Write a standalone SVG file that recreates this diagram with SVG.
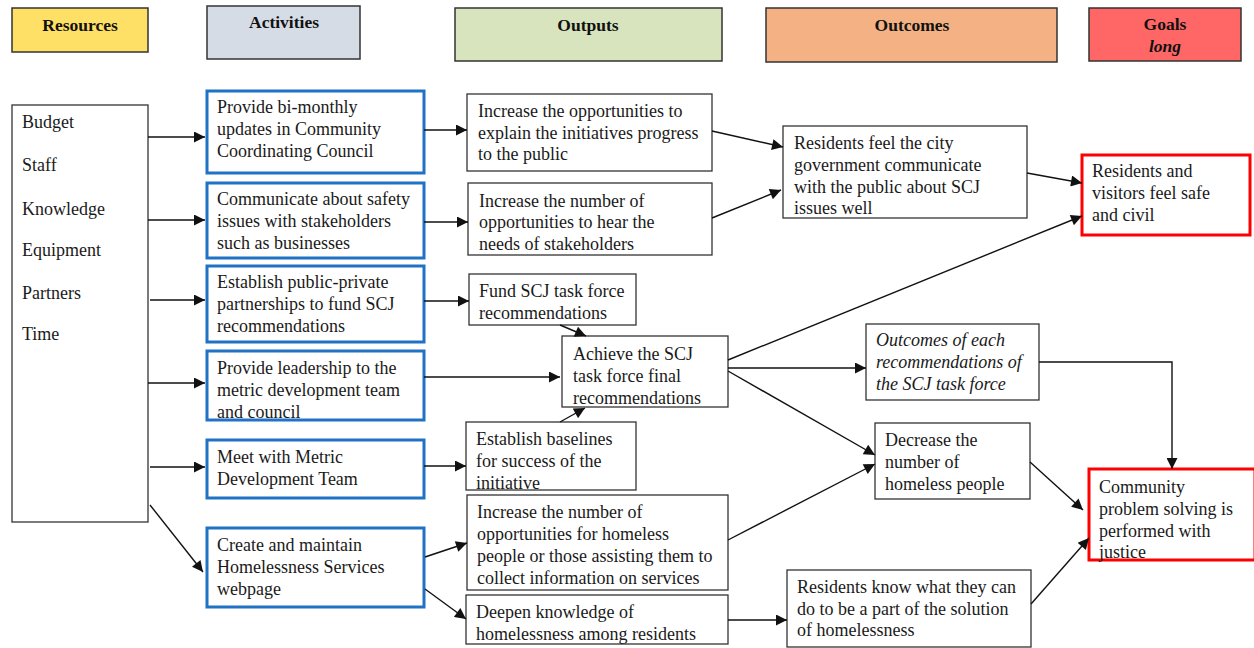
<svg xmlns="http://www.w3.org/2000/svg" width="1254" height="648" viewBox="0 0 1254 648" font-family="'Liberation Serif', 'Times New Roman', serif">
  <style>
    text { font-family: "Liberation Serif", "Times New Roman", serif; font-size: 18px; fill: #1a1a1a; }
    .hdr { font-weight: bold; font-size: 17.5px; text-anchor: middle; fill: #111; }
    .hbox { stroke: #333; stroke-width: 1.5; }
    .box { fill: #fff; stroke: #333; stroke-width: 1.3; }
    .act { fill: #fff; stroke: #1f72c4; stroke-width: 3; }
    .goal { fill: #fff; stroke: #ff0000; stroke-width: 3; }
    .it { font-style: italic; }
    #connectors path, #connectors line { fill: none; stroke: #111; stroke-width: 1.4; marker-end: url(#arrow); }
  </style>
  <defs>
    <marker id="arrow" viewBox="0 0 10 10" refX="10" refY="5" markerWidth="13" markerHeight="11" markerUnits="userSpaceOnUse" orient="auto">
      <path d="M0,0 L10,5 L0,10 z" fill="#111"/>
    </marker>
  </defs>
  <rect width="1254" height="648" fill="#fff"/>

  <!-- column headers -->
  <g id="hdr-resources">
    <rect class="hbox" x="12" y="8" width="136" height="44" fill="#ffe066"/>
    <text class="hdr" x="80" y="31">Resources</text>
  </g>
  <g id="hdr-activities">
    <rect class="hbox" x="207" y="6" width="153" height="53" fill="#d6dce5"/>
    <text class="hdr" x="284" y="28">Activities</text>
  </g>
  <g id="hdr-outputs">
    <rect class="hbox" x="455" y="8" width="267" height="53" fill="#d7e4bd"/>
    <text class="hdr" x="588" y="31">Outputs</text>
  </g>
  <g id="hdr-outcomes">
    <rect class="hbox" x="766" y="8" width="291" height="54" fill="#f4b183"/>
    <text class="hdr" x="912" y="31">Outcomes</text>
  </g>
  <g id="hdr-goals">
    <rect class="hbox" x="1089" y="8" width="152" height="53" fill="#ff6666"/>
    <text class="hdr" x="1165" y="30">Goals</text>
    <text class="hdr it" x="1165" y="52">long</text>
  </g>

  <!-- resources -->
  <g id="resources">
    <rect class="box" x="12" y="105" width="136" height="417"/>
    <text x="22" y="128">Budget</text>
    <text x="22" y="171">Staff</text>
    <text x="22" y="215">Knowledge</text>
    <text x="22" y="256">Equipment</text>
    <text x="22" y="299">Partners</text>
    <text x="22" y="340">Time</text>
  </g>

  <!-- activities -->
  <g id="act-updates">
    <rect class="act" x="207" y="91" width="217" height="82"/>
    <text x="217" y="113">Provide bi-monthly</text>
    <text x="217" y="135">updates in Community</text>
    <text x="217" y="157">Coordinating Council</text>
  </g>
  <g id="act-safety">
    <rect class="act" x="207" y="183" width="217" height="75"/>
    <text x="217" y="205">Communicate about safety</text>
    <text x="217" y="227">issues with stakeholders</text>
    <text x="217" y="249">such as businesses</text>
  </g>
  <g id="act-partnerships">
    <rect class="act" x="207" y="266" width="217" height="76"/>
    <text x="217" y="288">Establish public-private</text>
    <text x="217" y="310">partnerships to fund SCJ</text>
    <text x="217" y="332">recommendations</text>
  </g>
  <g id="act-leadership">
    <rect class="act" x="207" y="351" width="217" height="69"/>
    <text x="217" y="374">Provide leadership to the</text>
    <text x="217" y="396">metric development team</text>
    <text x="217" y="418">and council</text>
  </g>
  <g id="act-meet">
    <rect class="act" x="207" y="440" width="217" height="58"/>
    <text x="217" y="463">Meet with Metric</text>
    <text x="217" y="485">Development Team</text>
  </g>
  <g id="act-webpage">
    <rect class="act" x="207" y="528" width="217" height="79"/>
    <text x="217" y="551">Create and maintain</text>
    <text x="217" y="573">Homelessness Services</text>
    <text x="217" y="595">webpage</text>
  </g>

  <!-- outputs -->
  <g id="out-explain">
    <rect class="box" x="467" y="94" width="245" height="77"/>
    <text x="478" y="117">Increase the opportunities to</text>
    <text x="478" y="139">explain the initiatives progress</text>
    <text x="478" y="160">to the public</text>
  </g>
  <g id="out-hear">
    <rect class="box" x="468" y="183" width="244" height="72"/>
    <text x="479" y="207">Increase the number of</text>
    <text x="479" y="228">opportunities to hear the</text>
    <text x="479" y="250">needs of stakeholders</text>
  </g>
  <g id="out-fund">
    <rect class="box" x="469" y="274" width="167" height="51"/>
    <text x="479" y="297">Fund SCJ task force</text>
    <text x="479" y="319">recommendations</text>
  </g>
  <g id="out-achieve">
    <rect class="box" x="562" y="336" width="166" height="71"/>
    <text x="573" y="360">Achieve the SCJ</text>
    <text x="573" y="382">task force final</text>
    <text x="573" y="404">recommendations</text>
  </g>
  <g id="out-baselines">
    <rect class="box" x="466" y="422" width="170" height="68"/>
    <text x="476" y="445">Establish baselines</text>
    <text x="476" y="467">for success of the</text>
    <text x="476" y="489">initiative</text>
  </g>
  <g id="out-homeless-info">
    <rect class="box" x="467" y="495" width="261" height="95"/>
    <text x="477" y="518">Increase the number of</text>
    <text x="477" y="540">opportunities for homeless</text>
    <text x="477" y="562">people or those assisting them to</text>
    <text x="477" y="584">collect information on services</text>
  </g>
  <g id="out-deepen">
    <rect class="box" x="466" y="595" width="262" height="49"/>
    <text x="476" y="618">Deepen knowledge of</text>
    <text x="476" y="640">homelessness among residents</text>
  </g>

  <!-- outcomes -->
  <g id="oc-communicate">
    <rect class="box" x="783" y="126" width="244" height="92"/>
    <text x="794" y="149">Residents feel the city</text>
    <text x="794" y="171">government communicate</text>
    <text x="794" y="193">with the public about SCJ</text>
    <text x="794" y="214">issues well</text>
  </g>
  <g id="oc-each">
    <rect class="box" x="866" y="324" width="173" height="76"/>
    <text class="it" x="876" y="346">Outcomes of each</text>
    <text class="it" x="876" y="368">recommendations of</text>
    <text class="it" x="876" y="390">the SCJ task force</text>
  </g>
  <g id="oc-decrease">
    <rect class="box" x="875" y="423" width="155" height="76"/>
    <text x="885" y="446">Decrease the</text>
    <text x="885" y="468">number of</text>
    <text x="885" y="490">homeless people</text>
  </g>
  <g id="oc-know">
    <rect class="box" x="787" y="570" width="244" height="77"/>
    <text x="797" y="593">Residents know what they can</text>
    <text x="797" y="615">do to be a part of the solution</text>
    <text x="797" y="636">of homelessness</text>
  </g>

  <!-- long-term goals -->
  <g id="goal-safe">
    <rect class="goal" x="1082" y="155" width="168" height="80"/>
    <text x="1092" y="177">Residents and</text>
    <text x="1092" y="199">visitors feel safe</text>
    <text x="1092" y="221">and civil</text>
  </g>
  <g id="goal-justice">
    <rect class="goal" x="1089" y="469" width="166" height="91"/>
    <text x="1099" y="493">Community</text>
    <text x="1099" y="515">problem solving is</text>
    <text x="1099" y="537">performed with</text>
    <text x="1099" y="558">justice</text>
  </g>

  <!-- connectors -->
  <g id="connectors">
    <line x1="148" y1="137" x2="205" y2="137"/>
    <line x1="148" y1="220" x2="205" y2="220"/>
    <line x1="150" y1="300" x2="205" y2="300"/>
    <line x1="148" y1="383" x2="205" y2="383"/>
    <line x1="150" y1="467" x2="205" y2="467"/>
    <line x1="150" y1="505" x2="203" y2="572"/>

    <line x1="424" y1="130" x2="467" y2="130"/>
    <line x1="424" y1="222" x2="468" y2="222"/>
    <line x1="424" y1="301" x2="469" y2="301"/>
    <line x1="424" y1="377" x2="560" y2="377"/>
    <line x1="424" y1="466" x2="466" y2="466"/>
    <line x1="425" y1="557" x2="467" y2="543"/>
    <line x1="425" y1="589" x2="466" y2="619"/>

    <line x1="560" y1="325" x2="586" y2="336"/>
    <line x1="560" y1="422" x2="585" y2="408"/>

    <line x1="712" y1="131" x2="783" y2="147"/>
    <line x1="712" y1="218" x2="781" y2="190"/>
    <line x1="1027" y1="173" x2="1082" y2="183"/>
    <line x1="728" y1="360" x2="1082" y2="216"/>
    <line x1="728" y1="368" x2="866" y2="368"/>
    <line x1="728" y1="371" x2="875" y2="455"/>
    <line x1="728" y1="540" x2="875" y2="464"/>
    <path d="M1039,362 H1172 V469"/>
    <line x1="1030" y1="462" x2="1083" y2="510"/>
    <line x1="728" y1="620" x2="787" y2="620"/>
    <line x1="1031" y1="604" x2="1089" y2="538"/>
  </g>
</svg>
